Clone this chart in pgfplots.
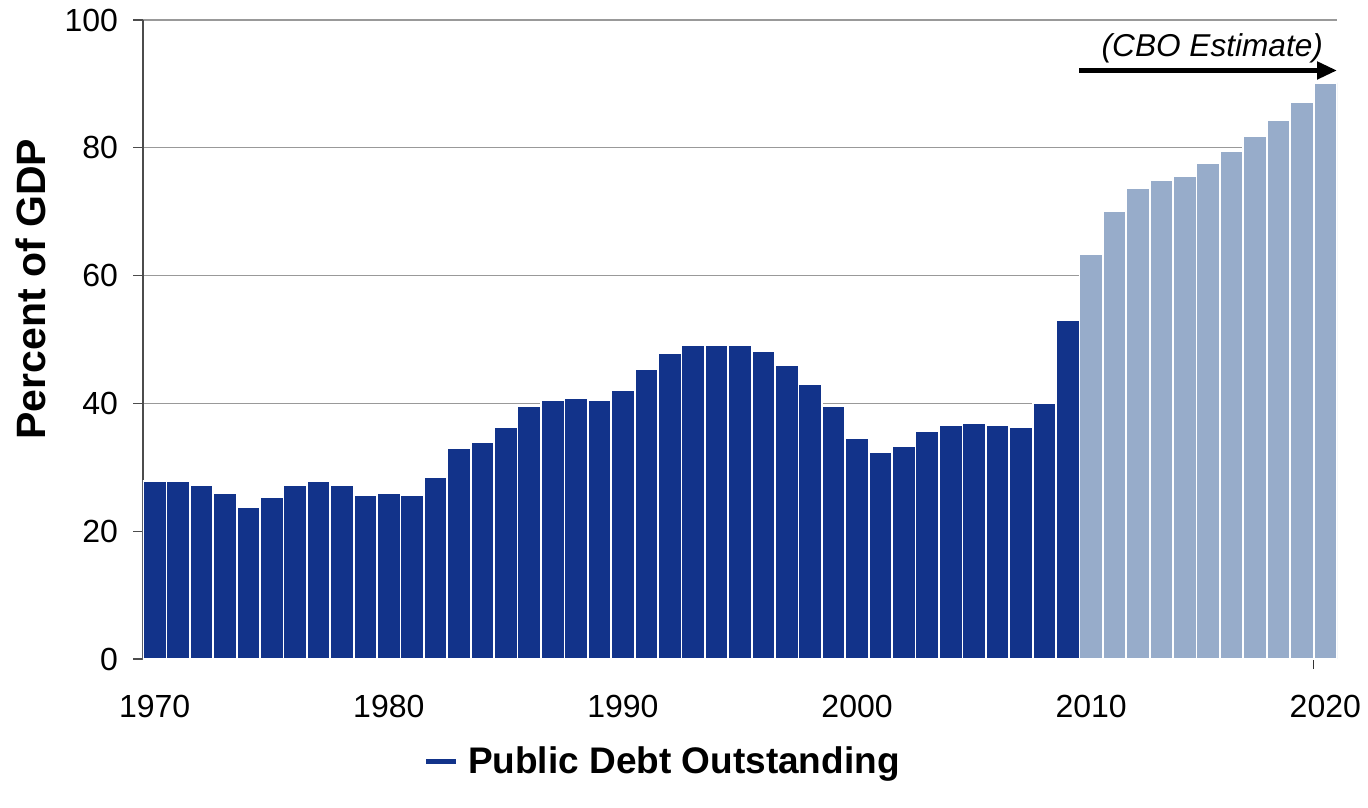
\documentclass[border=0pt]{standalone}
\usepackage{fontspec}
\setmainfont{Liberation Sans}
\usepackage{pgfplots}
\pgfplotsset{compat=1.18}
\usetikzlibrary{arrows.meta}
\definecolor{darkblue}{HTML}{12338A}
\definecolor{lightblue}{HTML}{97ACCA}
\begin{document}
\begin{tikzpicture}
\path[use as bounding box] (-71.5pt,-74pt) rectangle (612.5pt,329.5pt);
\begin{axis}[
  scale only axis,
  width=597pt, height=319.5pt,
  xmin=1970, xmax=2021,
  ymin=0, ymax=100,
  xtick={1970.5,1980.5,1990.5,2000.5,2010.5,2020.5},
  xticklabels={1970,1980,1990,2000,2010,2020},
  ytick={0,20,40,60,80,100},
  extra x ticks={2020},
  extra x tick labels={},
  extra x tick style={x tick style={draw=black!80, line width=0.6pt}, major tick length=5pt},
  axis x line=bottom, axis y line=left,
  axis line style={-, draw=black!70, line width=0.6pt},
  x tick style={draw=none},
  y tick style={draw=black!70, line width=0.6pt},
  tick align=outside, major tick length=5pt,
  ymajorgrids, grid style={draw=black!40, line width=0.6pt},
  /pgf/number format/1000 sep={},
  /pgf/number format/assume math mode=true,
  ticklabel style={font=\fontsize{16}{19}\selectfont},
  xticklabel style={yshift=-9.5pt},
  yticklabel style={xshift=-4pt},
  ylabel={Percent of GDP},
  ylabel style={font=\fontsize{20.5}{24}\selectfont\bfseries, at={(rel axis cs:0,0.579)}, yshift=56pt, anchor=center},
  legend style={draw=none, fill=none, at={(rel axis cs:0.436,-0.16)}, anchor=center, font=\fontsize{18.5}{22}\selectfont\bfseries},
  legend image code/.code={\draw[line width=2.5pt, darkblue] (0pt,0pt) -- (15pt,0pt); \path[draw=none, fill=none] (0pt,0pt) -- (19pt,0pt);},
]
\addplot[ybar, bar width=1, bar shift=0pt, fill=darkblue, draw=white, line width=0.9pt, forget plot] coordinates {
(1970.5,27.9) (1971.5,27.9) (1972.5,27.2) (1973.5,25.9) (1974.5,23.7)
(1975.5,25.3) (1976.5,27.2) (1977.5,27.9) (1978.5,27.2) (1979.5,25.6)
(1980.5,25.9) (1981.5,25.6) (1982.5,28.5) (1983.5,33.0) (1984.5,34.0)
(1985.5,36.3) (1986.5,39.5) (1987.5,40.5) (1988.5,40.8) (1989.5,40.5)
(1990.5,42.1) (1991.5,45.3) (1992.5,47.9) (1993.5,49.1) (1994.5,49.1)
(1995.5,49.1) (1996.5,48.2) (1997.5,46.0) (1998.5,43.0) (1999.5,39.5)
(2000.5,34.6) (2001.5,32.4) (2002.5,33.3) (2003.5,35.6) (2004.5,36.6)
(2005.5,36.9) (2006.5,36.6) (2007.5,36.3) (2008.5,40.1) (2009.5,53.0)
};
\addplot[ybar, bar width=1, bar shift=0pt, fill=lightblue, draw=white, line width=0.9pt, forget plot] coordinates {
(2010.5,63.4) (2011.5,70.1) (2012.5,73.7) (2013.5,75.0) (2014.5,75.6)
(2015.5,77.6) (2016.5,79.5) (2017.5,81.8) (2018.5,84.3) (2019.5,87.2)
(2020.5,90.2)
};
\addlegendimage{darkblue}
\addlegendentry{Public Debt Outstanding}
\draw[-{Triangle[length=10pt,width=8.5pt]}, line width=2.4pt] (axis cs:2010.0,92.1) -- (axis cs:2021,92.1);
\node[font=\fontsize{15.8}{18}\selectfont\itshape, anchor=east] at (axis cs:2020.7,95.5) {(CBO Estimate)};
\end{axis}
\end{tikzpicture}
\end{document}
